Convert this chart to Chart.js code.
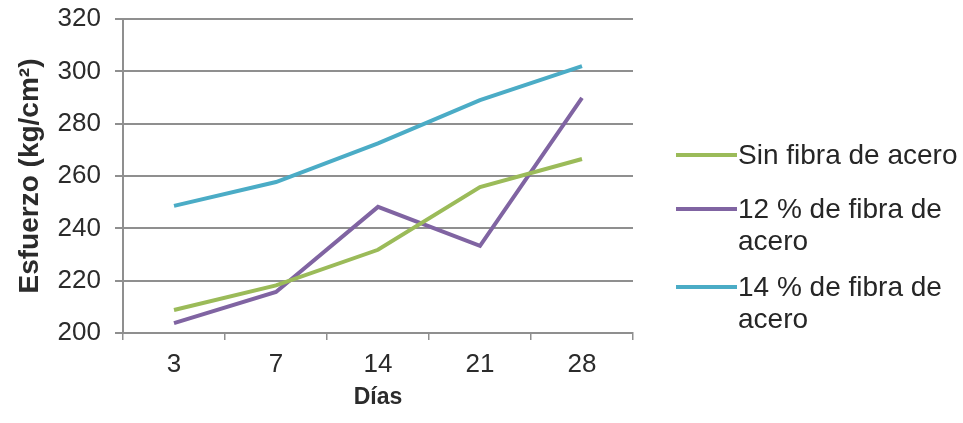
<!DOCTYPE html>
<html>
<head>
<meta charset="utf-8">
<script src="https://cdn.jsdelivr.net/npm/chart.js@4.4.1/dist/chart.umd.min.js"></script>
<style>
    html, body { margin: 0; padding: 0; background: #fff; }
    #wrap { position: relative; width: 963px; height: 423px; }
    #leyenda { position: absolute; left: 676px; top: 0; font-family: "Liberation Sans", Arial, sans-serif; font-size: 28px; color: #262626; }
    .item { position: absolute; left: 0; padding-left: 62px; line-height: 32px; white-space: nowrap; }
    .marca { position: absolute; left: 0; top: 14px; width: 61px; height: 4px; }
</style>
</head>
<body>
<div id="wrap">
    <canvas id="grafico" width="963" height="423"></canvas>
    <div id="leyenda"></div>
</div>
<script>
const dias = ['3', '7', '14', '21', '28'];
const sinFibra = [208.8, 218.2, 231.8, 255.8, 266.5];
const fibra12 = [203.8, 215.7, 248.2, 233.3, 289.9];
const fibra14 = [248.6, 257.7, 272.5, 289.0, 302.0];
const ticksY = [200, 220, 240, 260, 280, 300, 320];

const series = [
    { label: 'Sin fibra de acero', lineas: ['Sin fibra de acero'], data: sinFibra, color: '#9bbb59', top: 139 },
    { label: '12 % de fibra de acero', lineas: ['12 % de fibra de', 'acero'], data: fibra12, color: '#8064a2', top: 193 },
    { label: '14 % de fibra de acero', lineas: ['14 % de fibra de', 'acero'], data: fibra14, color: '#4bacc6', top: 271 }
];

const fuente = '"Liberation Sans", Arial, sans-serif';
const gris = '#8f8f8f';

new Chart(document.getElementById('grafico').getContext('2d'), {
    type: 'line',
    data: {
        labels: dias,
        datasets: series.map(s => ({
            label: s.label,
            data: s.data,
            borderColor: s.color,
            backgroundColor: s.color,
            borderWidth: 4,
            pointRadius: 0,
            tension: 0,
            fill: false
        }))
    },
    options: {
        responsive: false,
        animation: false,
        layout: { padding: { left: 0, right: 330, top: 19, bottom: 0 } },
        plugins: {
            legend: { display: false },
            tooltip: { enabled: false }
        },
        scales: {
            x: {
                offset: true,
                afterFit: s => { s.height = 90; },
                grid: { offset: true, drawOnChartArea: false, drawTicks: true, tickLength: 7, color: gris, lineWidth: 1.5 },
                border: { color: gris, width: 2 },
                ticks: { color: '#2b2b2b', font: { family: fuente, size: 26 }, padding: 9 },
                title: { display: true, text: 'Días', color: '#2b2b2b', font: { family: fuente, size: 23, weight: 'bold' }, padding: { top: 0, bottom: 12 } }
            },
            y: {
                min: 200,
                max: 320,
                afterFit: s => { s.width = 123; s.paddingTop = 0; s.paddingBottom = 0; },
                afterBuildTicks: axis => { axis.ticks = ticksY.map(v => ({ value: v })); },
                grid: { color: gris, lineWidth: 2, tickLength: 8 },
                border: { color: gris, width: 2 },
                ticks: { color: '#2b2b2b', font: { family: fuente, size: 26 }, padding: 14 },
                title: { display: true, text: 'Esfuerzo (kg/cm²)', color: '#2b2b2b', font: { family: fuente, size: 28, weight: 'bold' }, padding: { top: 13, bottom: 0 } }
            }
        }
    }
});

const leyenda = document.getElementById('leyenda');
series.forEach(s => {
    const item = document.createElement('div');
    item.className = 'item';
    item.style.top = s.top + 'px';
    const marca = document.createElement('span');
    marca.className = 'marca';
    marca.style.background = s.color;
    item.appendChild(marca);
    s.lineas.forEach(t => {
        const l = document.createElement('div');
        l.textContent = t;
        item.appendChild(l);
    });
    leyenda.appendChild(item);
});
</script>
</body>
</html>
